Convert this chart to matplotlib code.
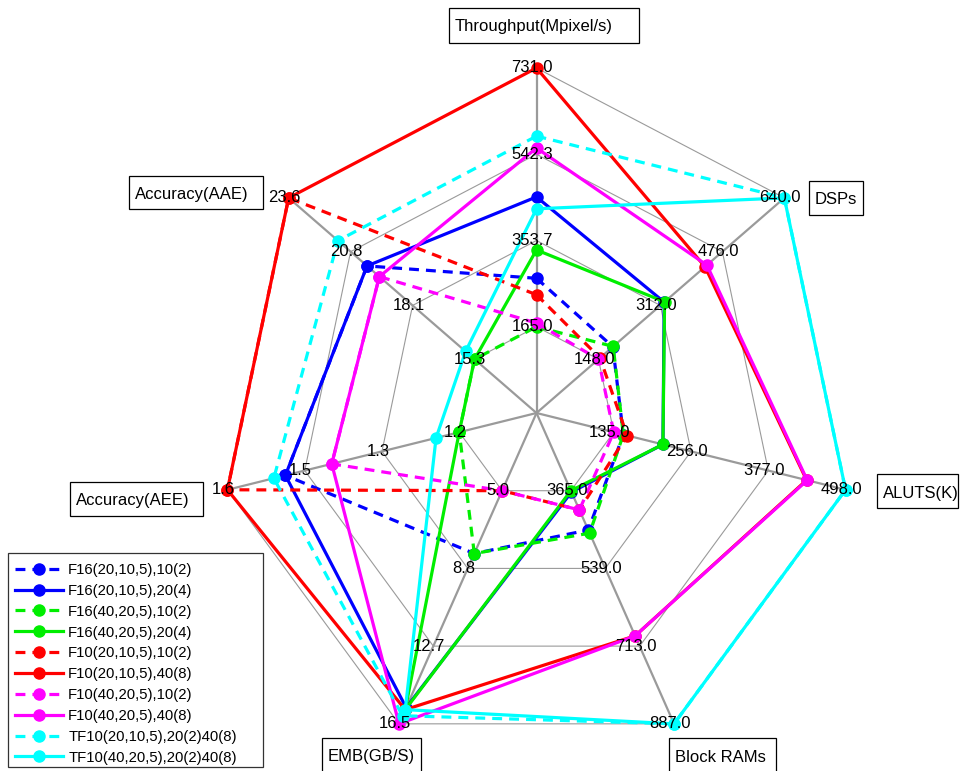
import numpy as np
import matplotlib
matplotlib.use('Agg')
import matplotlib.pyplot as plt
from matplotlib.patches import Rectangle

plt.rcParams['font.family'] = ['Liberation Sans', 'DejaVu Sans']

# ---------------- data ----------------
axis_names = ['Throughput(Mpixel/s)', 'DSPs', 'ALUTS(K)', 'Block RAMs',
              'EMB(GB/S)', 'Accuracy(AEE)', 'Accuracy(AAE)']

series_names = ['F16(20,10,5),10(2)', 'F16(20,10,5),20(4)',
                'F16(40,20,5),10(2)', 'F16(40,20,5),20(4)',
                'F10(20,10,5),10(2)', 'F10(20,10,5),40(8)',
                'F10(40,20,5),10(2)', 'F10(40,20,5),40(8)',
                'TF10(20,10,5),20(2)40(8)', 'TF10(40,20,5),20(2)40(8)']

# order: Throughput, DSPs, ALUTS, Block RAMs, EMB, AEE, AAE
f16_a_10 = [271, 186, 150, 453, 8.1, 1.50, 20.1]
f16_a_20 = [449, 322, 212, 368, 15.7, 1.50, 20.1]
f16_b_10 = [165, 187, 150, 460, 8.1, 1.20, 15.3]
f16_b_20 = [333, 323, 212, 365, 15.8, 1.20, 15.3]
f10_a_10 = [235, 152, 156, 408, 5.0, 1.60, 23.6]
f10_a_40 = [731, 430, 437, 690, 15.8, 1.60, 23.6]
f10_b_10 = [173, 148, 135, 408, 5.0, 1.42, 19.55]
f10_b_40 = [556, 435, 438, 690, 16.5, 1.42, 19.55]
tf10_a = [582, 640, 498, 887, 16.1, 1.52, 21.4]
tf10_b = [423, 640, 498, 887, 15.8, 1.24, 15.7]

series_values = [f16_a_10, f16_a_20, f16_b_10, f16_b_20, f10_a_10,
                 f10_a_40, f10_b_10, f10_b_40, tf10_a, tf10_b]

colors = ['#0000ff', '#0000ff', '#00ee00', '#00ee00', '#ff0000',
          '#ff0000', '#ff00ff', '#ff00ff', '#00ffff', '#00ffff']
dashed = [True, False, True, False, True, False, True, False, True, False]

# ---------------- layout ----------------
W, H = 960, 771
fig = plt.figure(figsize=(W / 100, H / 100), dpi=100)
ax = fig.add_axes([0, 0, 1, 1])
cx, cy = 536.5, 413.0
Rx, Ry = 317.0, 345.0
ax.set_xlim(-cx / Rx, (W - cx) / Rx)
ax.set_ylim(-(H - cy) / Ry, cy / Ry)
ax.axis('off')

n = len(axis_names)
theta = np.pi / 2 - 2 * np.pi * np.arange(n) / n
ct, st = np.cos(theta), np.sin(theta)

vals = np.array(series_values, dtype=float)
vmin = vals.min(axis=0)
vmax = vals.max(axis=0)

def closed(a):
    return np.append(a, a[0])

# rings
for k in range(1, 5):
    r = k / 4
    ax.plot(closed(r * ct), closed(r * st), color='#9a9a9a', lw=0.8,
            zorder=1, solid_joinstyle='miter')
# spokes
for i in range(n):
    ax.plot([0, ct[i]], [0, st[i]], color='#9a9a9a', lw=1.6, zorder=1.5,
            solid_capstyle='butt')

# series
for j, (name, v) in enumerate(zip(series_names, series_values)):
    v = np.asarray(v, dtype=float)
    r = 0.25 + 0.75 * (v - vmin) / (vmax - vmin)
    x = closed(r * ct)
    y = closed(r * st)
    ls = (0, (3.1, 2.2)) if dashed[j] else '-'
    ax.plot(x, y, ls=ls, color=colors[j], lw=2.3, marker='o', ms=8,
            markevery=list(range(n)), label=name, zorder=3 + j, clip_on=False)

# ring labels
for i in range(n):
    ticks = np.linspace(vmin[i], vmax[i], 4)
    for k, t in enumerate(ticks):
        r = (k + 1) / 4
        ax.annotate('%.1f' % t, xy=(r * ct[i], r * st[i]), xytext=(-3, 0),
                    textcoords='offset points', ha='center', va='center',
                    fontsize=12, zorder=30, color='black')

# axis-name boxes (pixel coordinates: x0, y0, x1, y1)
boxes = [(449, 8, 639, 43), (809, 181, 863, 215), (877, 474, 958, 508),
         (669, 738, 776, 772), (322, 738, 421, 772), (70, 482, 203, 516),
         (129, 176, 263, 209)]
for name, (x0, y0, x1, y1) in zip(axis_names, boxes):
    rect = Rectangle((x0 / W, 1 - y1 / H), (x1 - x0) / W, (y1 - y0) / H,
                     transform=fig.transFigure, fill=True, fc='white',
                     ec='black', lw=0.9, zorder=40)
    fig.add_artist(rect)
    fig.text((x0 + 6) / W, 1 - (y0 + 23.5) / H, name, fontsize=12,
             ha='left', va='baseline', zorder=41)

# legend with its frame (frame drawn inside the axes, under the legend)
lx0, ly0, lx1, ly1 = 8, 553, 263, 767
frame = Rectangle((lx0 / W, 1 - ly1 / H), (lx1 - lx0) / W, (ly1 - ly0) / H,
                  transform=fig.transFigure, fc='white', ec='#333333',
                  lw=0.9, zorder=45, clip_on=False)
ax.add_patch(frame)
leg = ax.legend(loc='lower left', bbox_to_anchor=(11 / W, 1 - 769 / H),
                bbox_transform=fig.transFigure, fontsize=10.7, frameon=False,
                borderpad=0.3, labelspacing=0.46, handlelength=3.2,
                handletextpad=0.35, borderaxespad=0)
leg.set_zorder(50)

fig.savefig('out.png', dpi=100)
